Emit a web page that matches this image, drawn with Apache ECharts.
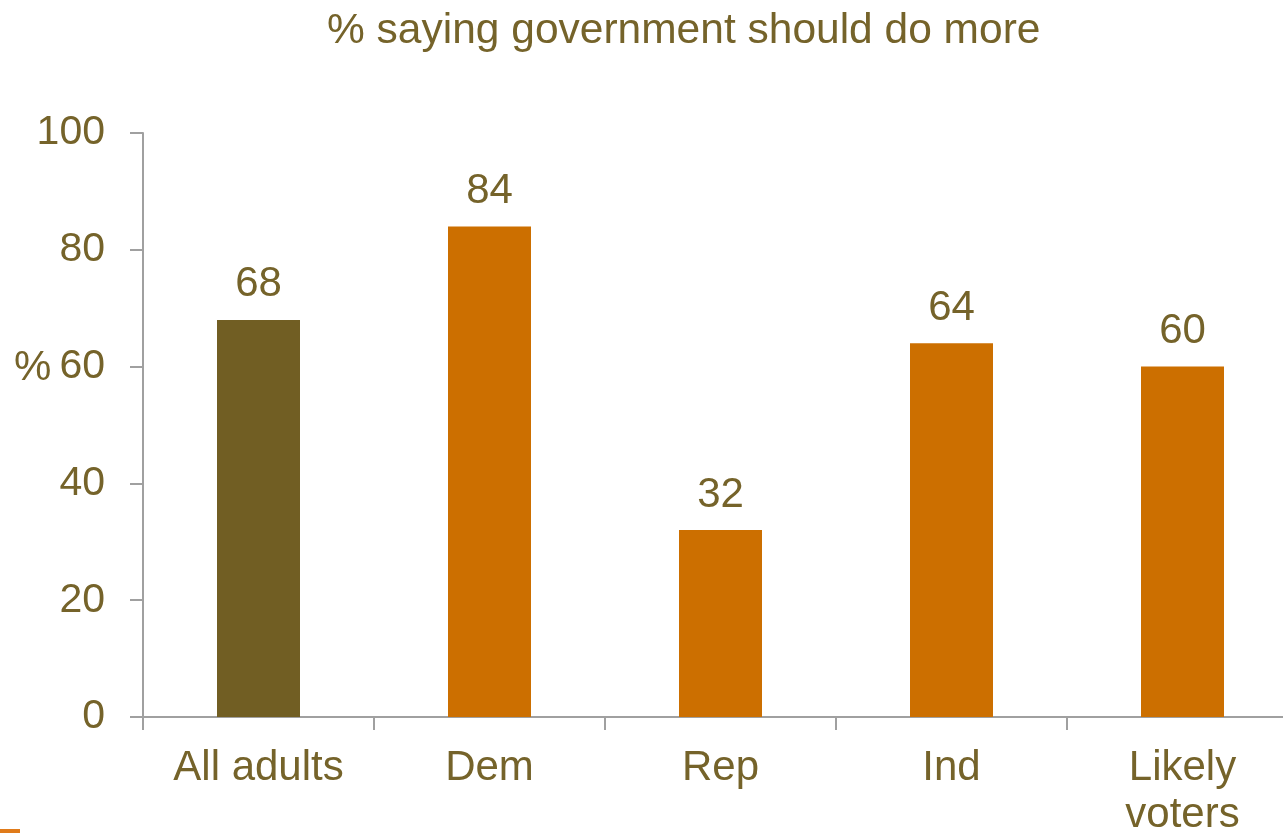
<!DOCTYPE html>
<html><head><meta charset="utf-8">
<script src="https://cdn.jsdelivr.net/npm/echarts@6/dist/echarts.min.js"></script>
<style>html,body{margin:0;padding:0;background:#fff}#c{width:1283px;height:833px}</style>
</head><body><div id="c"></div>
<script>
const categories = ['All adults', 'Dem', 'Rep', 'Ind', 'Likely\nvoters'];
const values = [68, 84, 32, 64, 60];
const barColors = ['#715e23', '#cc6f00', '#cc6f00', '#cc6f00', '#cc6f00'];
const yTicks = [0, 20, 40, 60, 80, 100];
const titleText = '% saying government should do more';
const yUnit = '%';

const textColor = '#75632a';
const font = 'Liberation Sans, Arial, sans-serif';
const chart = echarts.init(document.getElementById('c'));
chart.setOption({
  animation: false,
  backgroundColor: '#fff',
  title: {
    text: titleText, left: 322, top: 5,
    textStyle: {color: textColor, fontSize: 42.5, fontWeight: 'normal', fontFamily: font}
  },
  graphic: [
    {type: 'text', left: 14, top: 347, style: {text: yUnit, fill: textColor, fontSize: 42, fontFamily: font}},
    {type: 'rect', shape: {x: 0, y: 829, width: 20, height: 4}, style: {fill: '#e07b1a'}}
  ],
  grid: {left: 143, top: 133, bottom: 116, right: -15, containLabel: false, outerBoundsMode: 'none'},
  xAxis: {
    type: 'category', data: categories,
    axisLine: {lineStyle: {color: '#a0a0a0', width: 2}},
    axisTick: {show: true, length: 13, lineStyle: {color: '#a0a0a0', width: 2}},
    axisLabel: {color: textColor, fontSize: 42, fontFamily: font, margin: 28, lineHeight: 47, interval: 0}
  },
  yAxis: {
    type: 'value', min: 0, max: 100, interval: 20,
    axisLine: {show: true, lineStyle: {color: '#a0a0a0', width: 2}},
    axisTick: {show: true, inside: false, length: 13, lineStyle: {color: '#a0a0a0', width: 2}},
    splitLine: {show: false},
    axisLabel: {color: textColor, fontSize: 41, fontFamily: font, margin: 38,
      formatter: v => yTicks.includes(v) ? String(v) : ''}
  },
  series: [{
    type: 'bar', barWidth: 83,
    data: values.map((v, i) => ({value: v, itemStyle: {color: barColors[i]}})),
    label: {show: true, position: 'top', distance: 14, color: textColor, fontSize: 42, fontFamily: font}
  }]
});
</script></body></html>
